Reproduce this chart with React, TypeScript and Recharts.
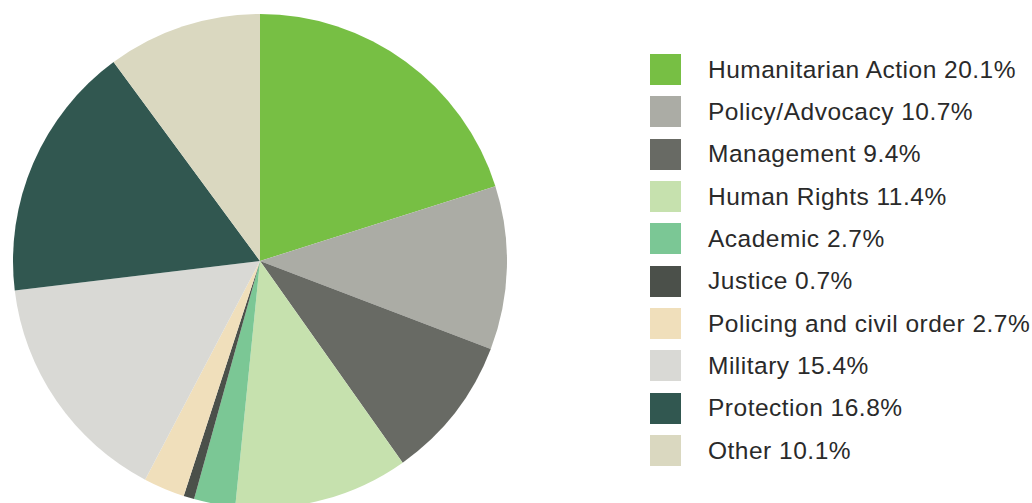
import React from 'react';
import { PieChart, Pie, Cell, Legend } from 'recharts';

const categories = [
  'Humanitarian Action',
  'Policy/Advocacy',
  'Management',
  'Human Rights',
  'Academic',
  'Justice',
  'Policing and civil order',
  'Military',
  'Protection',
  'Other',
];
const shares = [20.1, 10.7, 9.4, 11.4, 2.7, 0.7, 2.7, 15.4, 16.8, 10.1];
const colors = [
  '#77bf44',
  '#abaca5',
  '#686a64',
  '#c6e1ae',
  '#7bc795',
  '#4b504a',
  '#f0dfbb',
  '#d9d9d5',
  '#315750',
  '#dad8c0',
];

const data = categories.map((name, i) => ({ name, value: shares[i] }));

const renderLegend = () => (
  <div>
    {data.map((d, i) => (
      <div
        key={d.name}
        style={{
          display: 'flex',
          alignItems: 'center',
          height: 42.33,
          fontFamily: '"Liberation Sans", Arial, sans-serif',
          fontSize: 24.5,
          color: '#2a2a2a',
          whiteSpace: 'nowrap',
        }}
      >
        <span
          style={{
            display: 'inline-block',
            width: 31,
            height: 31,
            background: colors[i],
            marginRight: 27,
            flex: 'none',
          }}
        />
        <span style={{ letterSpacing: 0.5 }}>{`${d.name} ${d.value.toFixed(1)}%`}</span>
      </div>
    ))}
  </div>
);

export default function App() {
  return (
    <div style={{ position: 'absolute', left: 0, top: 0, width: 1032, height: 503, background: '#fff', overflow: 'hidden' }}>
      <PieChart width={1032} height={503} margin={{ top: 0, right: 0, bottom: 0, left: 0 }}>
        <Pie
          data={data}
          dataKey="value"
          nameKey="name"
          cx={260}
          cy={261}
          outerRadius={247}
          startAngle={90}
          endAngle={-270}
          stroke="none"
          isAnimationActive={false}
        >
          {data.map((d, i) => (
            <Cell key={d.name} fill={colors[i]} />
          ))}
        </Pie>
        <Legend
          content={renderLegend}
          layout="vertical"
          wrapperStyle={{ position: 'absolute', left: 650, top: 48.5, width: 382 }}
        />
      </PieChart>
    </div>
  );
}
